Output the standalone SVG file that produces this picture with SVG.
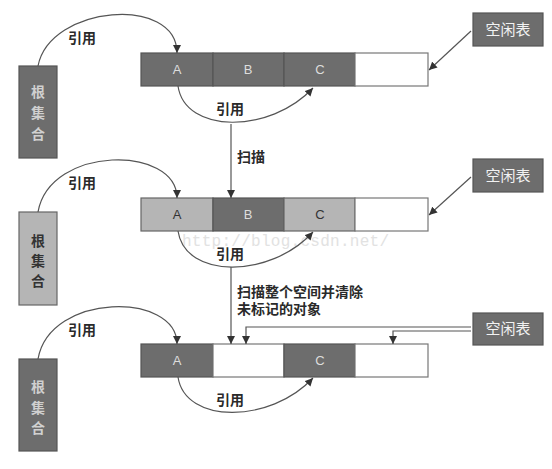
<svg xmlns="http://www.w3.org/2000/svg" width="552" height="469" viewBox="0 0 552 469">
<defs>
<marker id="ah" viewBox="0 0 10 10" refX="10" refY="5" markerWidth="8" markerHeight="8" markerUnits="userSpaceOnUse" orient="auto">
<path d="M0,0 L10,5 L0,10 z" fill="#333"/>
</marker>
</defs>
<style>
.dark{fill:#6d6d6d;stroke:#555;stroke-width:1.2}
.light{fill:#b5b5b5;stroke:#666;stroke-width:1.2}
.empty{fill:#fff;stroke:#777;stroke-width:1.2}
.cl{font-family:"Liberation Sans","Noto Sans",sans-serif;font-size:13px;text-anchor:middle}
.lbl{font-family:"Noto Sans CJK SC",sans-serif;font-size:14px;font-weight:bold;fill:#2a2a2a}
.root{font-family:"Noto Sans CJK SC",sans-serif;font-size:14px;font-weight:bold;text-anchor:middle}
.free{font-family:"Noto Sans CJK SC",sans-serif;font-size:15px;fill:#f2f2f2;text-anchor:middle}
.con{fill:none;stroke:#555;stroke-width:1.2}
.arr{marker-end:url(#ah)}
</style>
<rect width="552" height="469" fill="#fff"/>
<text x="182" y="246" font-family="Liberation Mono,monospace" font-size="16" fill="#e2e2e2" textLength="207">http://blog.csdn.net/</text>

<g id="row1">
<g id="root1"><rect x="19" y="66" width="38" height="92" class="dark"/>
<text class="root" fill="#d0d0d0"><tspan x="38" y="97">根</tspan><tspan x="38" y="118">集</tspan><tspan x="38" y="139">合</tspan></text></g>
<g id="r1A"><rect x="141" y="53" width="72" height="33" class="dark"/><text x="177" y="74" class="cl" fill="#ddd">A</text></g>
<g id="r1B"><rect x="213" y="53" width="71" height="33" class="dark"/><text x="248" y="74" class="cl" fill="#ddd">B</text></g>
<g id="r1C"><rect x="284" y="53" width="71" height="33" class="dark"/><text x="320" y="74" class="cl" fill="#ddd">C</text></g>
<g id="r1E"><rect x="355" y="53" width="73" height="33" class="empty"/></g>
<g id="free1"><rect x="473" y="13" width="70" height="33" class="dark"/><text x="508" y="35" class="free">空闲表</text></g>
</g>

<g id="row2">
<g id="root2"><rect x="19" y="212" width="38" height="93" class="light"/>
<text class="root" fill="#333"><tspan x="38" y="246">根</tspan><tspan x="38" y="266">集</tspan><tspan x="38" y="286">合</tspan></text></g>
<g id="r2A"><rect x="141" y="198" width="72" height="33" class="light"/><text x="177" y="219" class="cl" fill="#333">A</text></g>
<g id="r2B"><rect x="213" y="198" width="71" height="33" class="dark"/><text x="248" y="219" class="cl" fill="#ddd">B</text></g>
<g id="r2C"><rect x="284" y="198" width="71" height="33" class="light"/><text x="320" y="219" class="cl" fill="#333">C</text></g>
<g id="r2E"><rect x="355" y="198" width="73" height="33" class="empty"/></g>
<g id="free2"><rect x="473" y="159" width="70" height="33" class="dark"/><text x="508" y="181" class="free">空闲表</text></g>
</g>

<g id="row3">
<g id="root3"><rect x="19" y="359" width="38" height="92" class="dark"/>
<text class="root" fill="#d0d0d0"><tspan x="38" y="392">根</tspan><tspan x="38" y="413">集</tspan><tspan x="38" y="433">合</tspan></text></g>
<g id="r3A"><rect x="141" y="344" width="72" height="33" class="dark"/><text x="177" y="365" class="cl" fill="#ddd">A</text></g>
<g id="r3B"><rect x="213" y="344" width="71" height="33" class="empty"/></g>
<g id="r3C"><rect x="284" y="344" width="71" height="33" class="dark"/><text x="320" y="365" class="cl" fill="#ddd">C</text></g>
<g id="r3E"><rect x="355" y="344" width="73" height="33" class="empty"/></g>
<g id="free3"><rect x="473" y="313" width="70" height="32" class="dark"/><text x="508" y="334" class="free">空闲表</text></g>
</g>

<g id="connectors">
<path class="con arr" d="M38,66 C50,5 177,-5 177,53"/>
<path class="con arr" d="M178,86 C185,134 270,134 313,88"/>
<path class="con arr" d="M471,31 L429,70"/>
<path class="con arr" d="M231,124 L231,198"/>
<path class="con arr" d="M38,212 C50,145 177,145 177,198"/>
<path class="con arr" d="M178,231 C185,279 270,279 313,232"/>
<path class="con arr" d="M471,177 L429,215"/>
<path class="con arr" d="M231,267 L231,344"/>
<path class="con arr" d="M38,359 C50,292 177,292 177,344"/>
<path class="con arr" d="M178,377 C185,424 270,424 313,378"/>
<path class="con arr" d="M471,327 L246,327 L246,344"/>
<path class="con arr" d="M471,331 L393,331 L393,344"/>
</g>

<g id="labels">
<text x="68" y="43" class="lbl">引用</text>
<text x="216" y="114" class="lbl">引用</text>
<text x="237" y="162" class="lbl">扫描</text>
<text x="68" y="188" class="lbl">引用</text>
<text x="216" y="259" class="lbl">引用</text>
<text class="lbl" font-size="15"><tspan x="237" y="297">扫描整个空间并清除</tspan><tspan x="237" y="314">未标记的对象</tspan></text>
<text x="68" y="335" class="lbl">引用</text>
<text x="216" y="405" class="lbl">引用</text>
</g>
</svg>
